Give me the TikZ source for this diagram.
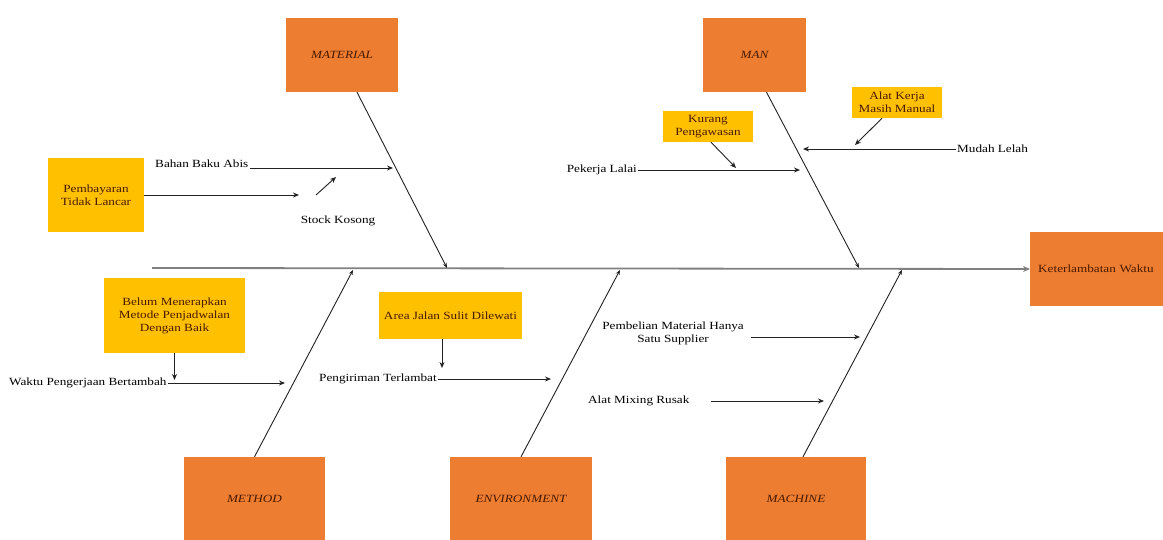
\documentclass[tikz,border=0pt]{standalone}
\usepackage{fontspec}
\setmainfont{Liberation Serif}[FakeStretch=1.2]
\usetikzlibrary{arrows.meta}
\definecolor{orangebox}{HTML}{ED7D31}
\definecolor{yellowbox}{HTML}{FFC000}
\definecolor{boxtext}{HTML}{4A1A00}
\definecolor{linegray}{HTML}{222222}
\tikzset{
  catbox/.style={fill=orangebox, text=boxtext, inner sep=0pt, font=\fontsize{11}{13}\selectfont\itshape},
  subbox/.style={fill=yellowbox, text=boxtext, inner sep=0pt, align=center, font=\fontsize{11}{13}\selectfont},
  lbl/.style={inner sep=1pt, align=center, font=\fontsize{11}{13}\selectfont},
  arr/.style={draw=linegray, line width=0.9pt, -{Stealth[length=6pt,width=5pt]}},
  bone/.style={draw=linegray, line width=0.9pt, -{Stealth[length=5pt,width=4pt]}},
  spine/.style={draw=gray, line width=1.8pt, -{Stealth[length=7pt,width=6pt]}},
}
\begin{document}
\begin{tikzpicture}[x=1pt,y=-1pt]
\useasboundingbox (0,0) rectangle (1163,540);
\fill[white] (0,0) rectangle (1163,540);

% category boxes
\node[catbox, minimum width=112, minimum height=74] (material) at (342,55) {MATERIAL};
\node[catbox, minimum width=103, minimum height=74] (man) at (754.5,55) {MAN};
\node[catbox, minimum width=141, minimum height=84] (method) at (254.5,499) {METHOD};
\node[catbox, minimum width=142, minimum height=84] (environment) at (521,499) {ENVIRONMENT};
\node[catbox, minimum width=140, minimum height=84] (machine) at (796,499) {MACHINE};

% effect box
\node[fill=orangebox, text=boxtext, anchor=west, minimum width=140, minimum height=74,
      text width=124, inner xsep=8pt, align=left, font=\fontsize{11}{13}\selectfont] (effect) at (1030,269) {Keterlambatan Waktu};

% spine
\coordinate (tail) at (152,268);
\draw[spine] (tail) -- (effect.west);

% bone tips on spine
\coordinate (tmat) at (447,268);
\coordinate (tman) at (859,268);
\coordinate (tmet) at (353,270);
\coordinate (tenv) at (620,270);
\coordinate (tmac) at (902,270);

\draw[bone] ([xshift=15pt]material.south) -- (tmat);
\draw[bone] ([xshift=12pt]man.south) -- (tman);
\draw[bone] (method.north) -- (tmet);
\draw[bone] (environment.north) -- (tenv);
\draw[bone] ([xshift=7pt]machine.north) -- (tmac);

% sub-cause boxes
\node[subbox, minimum width=96, minimum height=74] (pemb) at (96,195) {Pembayaran\\Tidak Lancar};
\node[subbox, minimum width=141, minimum height=75] (belum) at (174.5,315.5) {Belum Menerapkan\\Metode Penjadwalan\\Dengan Baik};
\node[subbox, minimum width=143, minimum height=47] (area) at (450.5,315.5) {Area Jalan Sulit Dilewati};
\node[subbox, minimum width=90, minimum height=31] (kurang) at (708,126.5) {Kurang\\Pengawasan};
\node[subbox, minimum width=90, minimum height=31] (alat) at (897,102.5) {Alat Kerja\\Masih Manual};

% MATERIAL causes
\node[lbl, anchor=west] (bahan) at (154,164) {Bahan Baku Abis};
\coordinate (bahanend) at (393,168);
\draw[arr] (bahan.east |- bahanend) -- (bahanend);
\coordinate (pembend) at (299,195);
\draw[arr] (pemb.east |- pembend) -- (pembend);
\node[lbl] (stock) at (338,221) {Stock Kosong};
\coordinate (stockstart) at (316,195);
\coordinate (stockend) at (336,177);
\draw[arr] (stockstart) -- (stockend);

% MAN causes
\node[lbl, anchor=east] (pekerja) at (638,170) {Pekerja Lalai};
\coordinate (pekerjaend) at (800,170);
\draw[arr] (pekerja.east |- pekerjaend) -- (pekerjaend);
\coordinate (kurangend) at (736,168);
\draw[arr] ([xshift=3pt]kurang.south) -- (kurangend);
\node[lbl, anchor=west] (mudah) at (956,149) {Mudah Lelah};
\coordinate (mudahend) at (803,149);
\draw[arr] (mudah.west) -- (mudahend);
\coordinate (alatend) at (855,145);
\draw[arr] ([xshift=-15pt]alat.south) -- (alatend);

% METHOD causes
\node[lbl, anchor=west] (waktu) at (8,383) {Waktu Pengerjaan Bertambah};
\coordinate (waktuend) at (285,383);
\draw[arr] (waktu.east |- waktuend) -- (waktuend);
\coordinate (belumend) at (174.5,380);
\draw[arr] (belum.south) -- (belumend);

% ENVIRONMENT causes
\node[lbl, anchor=west] (kirim) at (318,379) {Pengiriman Terlambat};
\coordinate (kirimend) at (551,379);
\draw[arr] (kirim.east |- kirimend) -- (kirimend);
\coordinate (areaend) at (442,368);
\draw[arr] ([xshift=-8.5pt]area.south) -- (areaend);

% MACHINE causes
\node[lbl, anchor=east] (beli) at (745,333) {Pembelian Material Hanya\\Satu Supplier};
\coordinate (beliend) at (860,337);
\draw[arr] ([xshift=6pt]beli.east |- beliend) -- (beliend);
\node[lbl, anchor=west] (mixing) at (587,401) {Alat Mixing Rusak};
\coordinate (mixingend) at (824,401);
\draw[arr] ([xshift=20pt]mixing.east) -- (mixingend);
\end{tikzpicture}
\end{document}
